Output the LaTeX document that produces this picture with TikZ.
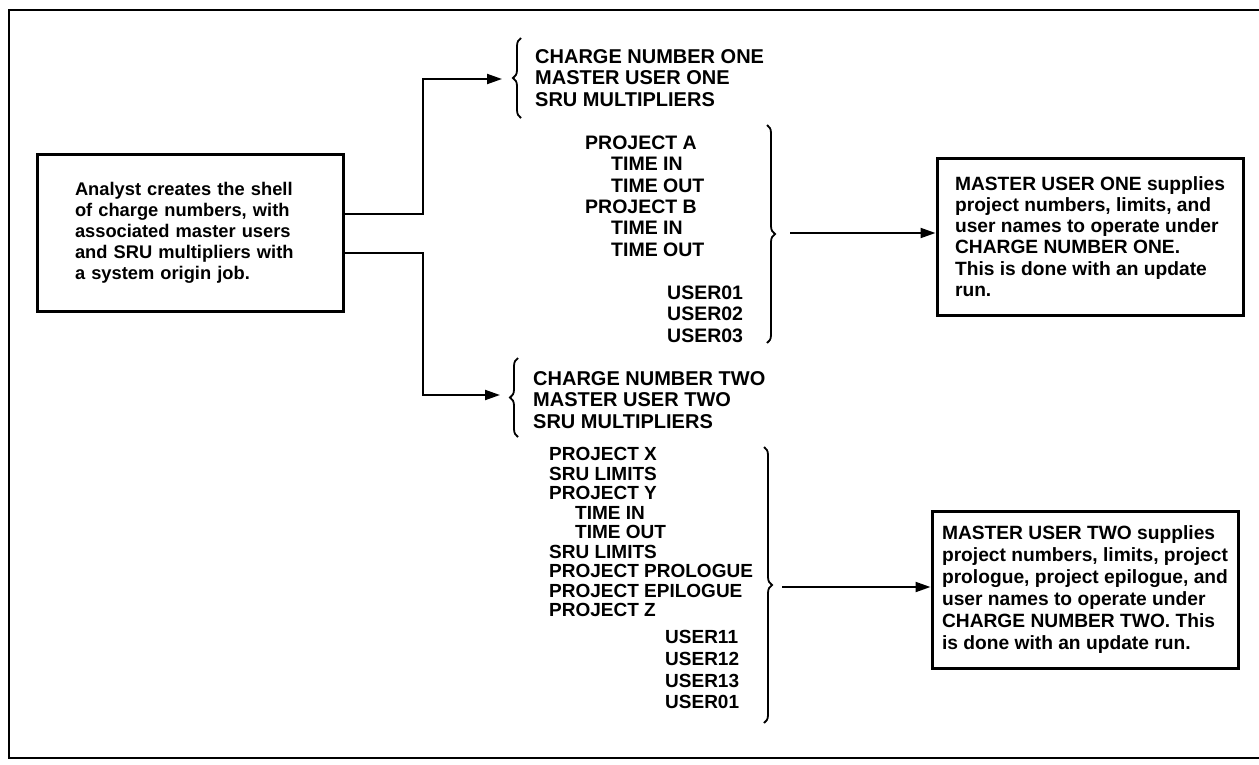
\documentclass[tikz,border=0pt]{standalone}
\usepackage{fontspec}
\setmainfont{Liberation Sans}
\usetikzlibrary{arrows.meta,decorations.pathreplacing}
\begin{document}
\begin{tikzpicture}[x=1pt,y=-1pt,
  frame/.style={line width=2pt},
  textbox/.style={draw, line width=3pt, align=left, minimum width=306pt, minimum height=157pt, inner sep=0pt, font=\bfseries\fontsize{19.2}{21.2}\selectfont},
  capline/.style={anchor=base west, inner sep=0pt, font=\bfseries\fontsize{20}{21}\selectfont},
  capmid/.style={capline, font=\bfseries\fontsize{19.5}{21}\selectfont},
  capsmall/.style={capline, font=\bfseries\fontsize{19}{20}\selectfont},
  conn/.style={line width=2pt},
  arr/.style={conn, -{Triangle[length=15pt,width=10pt]}},
  bracestyle/.style={line width=1.8pt, decorate, decoration={brace, amplitude=8pt}}
]
\useasboundingbox (0,0) rectangle (1259,764);
% outer frame (open on the right)
\draw[frame] (1270,10) -- (9,10) -- (9,758) -- (1270,758);

% boxes
\node[textbox, text width=230pt, font=\bfseries\fontsize{18.3}{21}\selectfont] (L) at (190,233)
  {Analyst creates the shell\\of charge numbers, with\\associated master users\\and SRU multipliers with\\a system origin job.};
\node[textbox] (B1) at (1090,236.5)
  {MASTER USER ONE supplies\\project numbers, limits, and\\user names to operate under\\CHARGE NUMBER ONE.\\This is done with an update\\run.};
\node[textbox, font=\bfseries\fontsize{19.2}{22}\selectfont] (B2) at (1085,590)
  {MASTER USER TWO supplies\\project numbers, limits, project\\prologue, project epilogue, and\\user names to operate under\\CHARGE NUMBER TWO. This\\is done with an update run.};

% charge number one
\foreach \t [count=\i] in {CHARGE NUMBER ONE, MASTER USER ONE, SRU MULTIPLIERS}
  \node[capline] (ha\i) at (535,{63+21.7*(\i-1)}) {\t};
\foreach \x/\y/\t [count=\i] in {585/149/PROJECT A, 611/170/TIME IN, 611/192/TIME OUT,
    585/213/PROJECT B, 611/234/TIME IN, 611/256/TIME OUT,
    667/299/USER01, 667/320/USER02, 667/342/USER03}
  \node[capmid] (da\i) at (\x,\y) {\t};

% charge number two
\foreach \t [count=\i] in {CHARGE NUMBER TWO, MASTER USER TWO, SRU MULTIPLIERS}
  \node[capline] (hb\i) at (533,{385+21.5*(\i-1)}) {\t};
\foreach \x/\y/\t [count=\i] in {549/460/PROJECT X, 549/480/SRU LIMITS, 549/499/PROJECT Y,
    575/519/TIME IN, 575/538/TIME OUT, 549/558/SRU LIMITS,
    549/577/PROJECT PROLOGUE, 549/597/PROJECT EPILOGUE, 549/616/PROJECT Z,
    665/643/USER11, 665/665/USER12, 665/687/USER13, 665/708/USER01}
  \node[capsmall] (db\i) at (\x,\y) {\t};

% braces
\draw[bracestyle] (521,118) -- (521,38);
\draw[bracestyle] (767,125) -- (767,343);
\draw[bracestyle] (518,437) -- (518,358);
\draw[bracestyle] (764,447) -- (764,723);

% connectors
\coordinate (t1) at (502,79);
\coordinate (t2) at (500,395);
\coordinate (s1) at (790,233);
\coordinate (s2) at (782,587);
\draw[arr] ([yshift=19pt]L.east) -- ++(78,0) |- (t1);
\draw[arr] ([yshift=-20pt]L.east) -- ++(78,0) |- (t2);
\draw[arr] (s1) -- (B1.west |- s1);
\draw[arr] (s2) -- (B2.west |- s2);
\end{tikzpicture}
\end{document}
